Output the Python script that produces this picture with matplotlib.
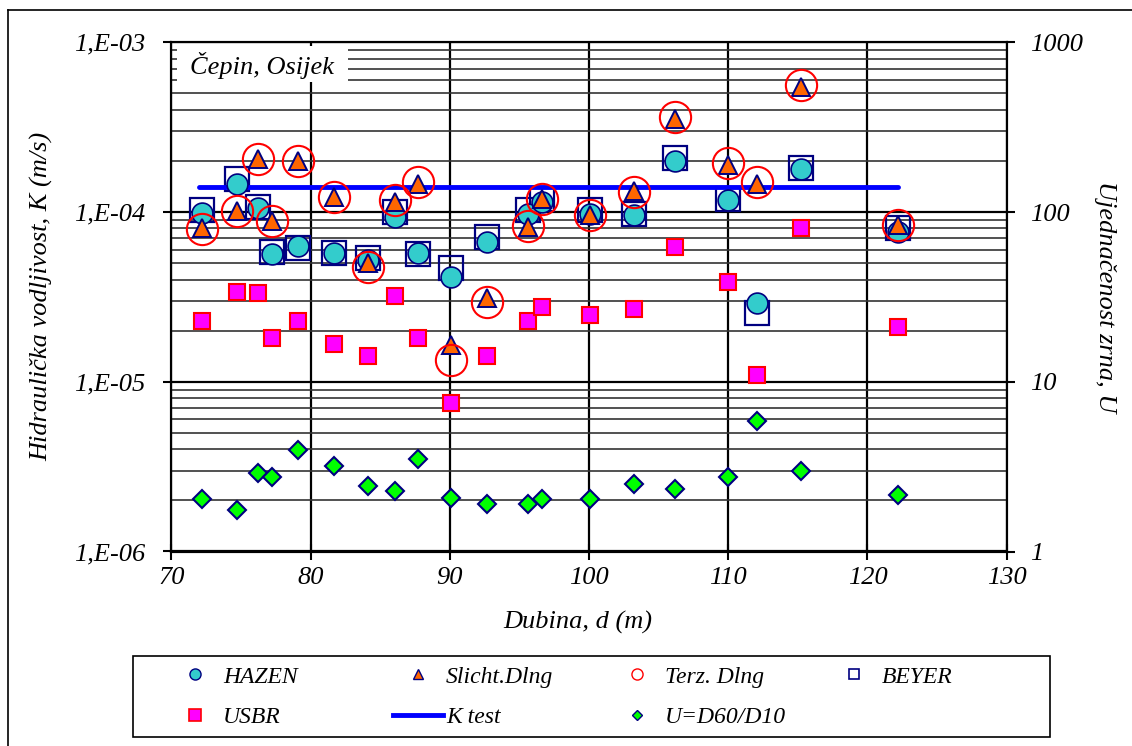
import matplotlib
matplotlib.use('Agg')
import matplotlib.pyplot as plt
from matplotlib.lines import Line2D
from matplotlib.patches import Rectangle
from matplotlib.ticker import FixedLocator, FixedFormatter, NullLocator, NullFormatter

# ---- data ----
depth = [72.2, 74.7, 76.2, 77.2, 79.1, 81.7, 84.1, 86.1, 87.7, 90.1,
         92.7, 95.6, 96.6, 100.1, 103.2, 106.2, 110.0, 112.1, 115.2, 122.2]

hazen = [9.9e-5, 1.46e-4, 1.05e-4, 5.65e-5, 6.3e-5, 5.75e-5, 5.2e-5, 9.4e-5, 5.75e-5, 4.16e-5,
         6.66e-5, 9.8e-5, 1.15e-4, 9.8e-5, 9.6e-5, 2.0e-4, 1.18e-4, 2.92e-5, 1.79e-4, 7.65e-5]
slicht = [8.0e-5, 1.01e-4, 2.04e-4, 8.85e-5, 2.0e-4, 1.23e-4, 4.99e-5, 1.15e-4, 1.46e-4, 1.64e-5,
          3.13e-5, 8.19e-5, 1.2e-4, 9.6e-5, 1.33e-4, 3.52e-4, 1.89e-4, 1.46e-4, 5.43e-4, 8.38e-5]
terz = [7.9e-5, 1.01e-4, 2.04e-4, 8.85e-5, 2.0e-4, 1.23e-4, 4.72e-5, 1.17e-4, 1.5e-4, 1.35e-5,
        2.96e-5, 8.25e-5, 1.2e-4, 9.6e-5, 1.31e-4, 3.61e-4, 1.94e-4, 1.5e-4, 5.6e-4, 8.38e-5]
beyer = [1.03e-4, 1.56e-4, 1.07e-4, 5.84e-5, 6.1e-5, 5.71e-5, 5.36e-5, 1.0e-4, 5.65e-5, 4.66e-5,
         7.15e-5, 1.03e-4, 1.19e-4, 1.03e-4, 9.8e-5, 2.09e-4, 1.2e-4, 2.53e-5, 1.81e-4, 8.0e-5]
usbr = [2.28e-5, 3.39e-5, 3.35e-5, 1.82e-5, 2.28e-5, 1.66e-5, 1.42e-5, 3.21e-5, 1.82e-5, 7.46e-6,
        1.42e-5, 2.28e-5, 2.77e-5, 2.47e-5, 2.67e-5, 6.19e-5, 3.88e-5, 1.095e-5, 8.0e-5, 2.11e-5]
uniformity = [2.04, 1.75, 2.91, 2.73, 3.96, 3.2, 2.43, 2.28, 3.49, 2.07,
              1.90, 1.90, 2.04, 2.04, 2.49, 2.34, 2.73, 5.89, 2.99, 2.14]

ktest_depth = [72.0, 122.2]
ktest_value = [1.41e-4, 1.41e-4]

x_ticks = [70, 80, 90, 100, 110, 120, 130]
k_ticks = [1e-6, 1e-5, 1e-4, 1e-3]
k_tick_labels = ['1,E-06', '1,E-05', '1,E-04', '1,E-03']
u_ticks = [1, 10, 100, 1000]
u_tick_labels = ['1', '10', '100', '1000']

# ---- style ----
plt.rcParams['font.family'] = ['Liberation Serif', 'DejaVu Serif']
plt.rcParams['font.style'] = 'italic'

NAVY = '#000080'
W, H = 1132, 746
fig = plt.figure(figsize=(W / 100, H / 100), dpi=100)
ax = fig.add_axes([171.3 / W, 1 - 551.5 / H, (1006.7 - 171.3) / W, (551.5 - 42.3) / H])

ax.set_yscale('log')
ax.set_xlim(70, 130)
ax.set_ylim(1e-6, 1e-3)

# grid
ax.set_axisbelow(True)
ax.grid(True, which='major', axis='both', color='black', lw=1.6)
ax.yaxis.grid(True, which='minor', color='#333333', lw=1.2)

# series (bottom to top)
ax.plot(depth, beyer, ls='none', marker='s', ms=17.5, mfc='none', mec=NAVY, mew=1.6, zorder=3)
ax.plot(depth, hazen, ls='none', marker='o', ms=15, mfc='#33CCCC', mec=NAVY, mew=1.2, zorder=4)
ax.plot(ktest_depth, ktest_value, color='#0000FF', lw=3.5, solid_capstyle='round', zorder=3.5)
ax.plot(depth, slicht, ls='none', marker='^', ms=13, mfc='#FF6600', mec=NAVY, mew=1.4, zorder=5)
ax.plot(depth, terz, ls='none', marker='o', ms=22.5, mfc='none', mec='#FF0000', mew=1.5, zorder=6)
ax.plot(depth, usbr, ls='none', marker='s', ms=11.5, mfc='#FF00FF', mec='#FF0000', mew=1.5, zorder=5)

# axes / ticks
ax.xaxis.set_major_locator(FixedLocator(x_ticks))
ax.yaxis.set_major_locator(FixedLocator(k_ticks))
ax.yaxis.set_major_formatter(FixedFormatter(k_tick_labels))
ax.yaxis.set_minor_formatter(NullFormatter())
ax.tick_params(axis='y', which='major', direction='out', length=6, width=1.5, labelsize=19, pad=13)
ax.tick_params(axis='y', which='minor', length=0)
ax.tick_params(axis='x', which='major', direction='inout', length=11, width=1.5, labelsize=19, pad=6)
for sp in ax.spines.values():
    sp.set_linewidth(1.5)

ax.set_xlabel('Dubina, d (m)', fontsize=19, va='center')
ax.xaxis.set_label_coords((578 - 171.3) / 835.4, -(622 - 551.5) / 509.2)
ax.set_ylabel('Hidraulička vodljivost, K (m/s)', fontsize=19, va='center')
ax.yaxis.set_label_coords((42 - 171.3) / 835.4, 0.5)

# location box
ax.add_patch(Rectangle((0.0068, 0.922), 0.2047, 0.0707, transform=ax.transAxes,
                       facecolor='white', edgecolor='none', zorder=1))
ax.text(0.1086, 0.9535, 'Čepin, Osijek', transform=ax.transAxes, fontsize=19,
        ha='center', va='center', zorder=7)

# secondary axis: uniformity coefficient
ax2 = ax.twinx()
ax2.set_yscale('log')
ax2.set_ylim(1, 1000)
ax2.plot(depth, uniformity, ls='none', marker='D', ms=9, mfc='#00FF00', mec=NAVY, mew=1.5, zorder=5)
ax2.yaxis.set_major_locator(FixedLocator(u_ticks))
ax2.yaxis.set_major_formatter(FixedFormatter(u_tick_labels))
ax2.yaxis.set_minor_locator(NullLocator())
ax2.tick_params(axis='y', which='major', direction='out', length=6, width=1.5, labelsize=19, pad=11)
for sp in ax2.spines.values():
    sp.set_linewidth(1.5)
ax2.set_ylabel('Ujednačenost zrna, U', fontsize=19, rotation=270, va='center')
ax2.yaxis.set_label_coords((1105 - 171.3) / 835.4, 0.5)

# legend: frame + one small legend per column
fig.add_artist(Rectangle((133 / W, 1 - 737 / H), (1050 - 133) / W, (737 - 656) / H,
                         transform=fig.transFigure, facecolor='white', edgecolor='black', lw=1.2))
h_hazen = Line2D([], [], ls='none', marker='o', ms=8, mfc='#33CCCC', mec=NAVY, mew=1.0)
h_slicht = Line2D([], [], ls='none', marker='^', ms=7.5, mfc='#FF6600', mec=NAVY, mew=1.0)
h_terz = Line2D([], [], ls='none', marker='o', ms=8, mfc='none', mec='#FF0000', mew=1.0)
h_beyer = Line2D([], [], ls='none', marker='s', ms=7.5, mfc='none', mec=NAVY, mew=1.2)
h_usbr = Line2D([], [], ls='none', marker='s', ms=8.5, mfc='#FF00FF', mec='#FF0000', mew=1.2)
h_ktest = Line2D([], [], color='#0000FF', lw=3.5)
h_u = Line2D([], [], ls='none', marker='D', ms=5.5, mfc='#00FF00', mec=NAVY, mew=1.0)

columns = [
    (170, [h_hazen, h_usbr], ['HAZEN', 'USBR']),
    (393, [h_slicht, h_ktest], ['Slicht.Dlng', 'K test']),
    (612, [h_terz, h_u], ['Terz. Dlng', 'U=D60/D10']),
    (829, [h_beyer], ['BEYER']),
]
for x0, handles, labels in columns:
    fig.legend(handles, labels, loc='upper left', bbox_to_anchor=(x0 / W, 1 - 666 / H),
               frameon=False, borderpad=0, borderaxespad=0, fontsize=17,
               handlelength=2.1, handletextpad=0.15, labelspacing=0.8)

# outer chart frame
fig.add_artist(Line2D([8 / W, 8 / W], [0, 1 - 10 / H], transform=fig.transFigure, color='black', lw=1.2))
fig.add_artist(Line2D([8 / W, 1], [1 - 10 / H, 1 - 10 / H], transform=fig.transFigure, color='black', lw=1.2))

fig.savefig('out.png', dpi=100)
